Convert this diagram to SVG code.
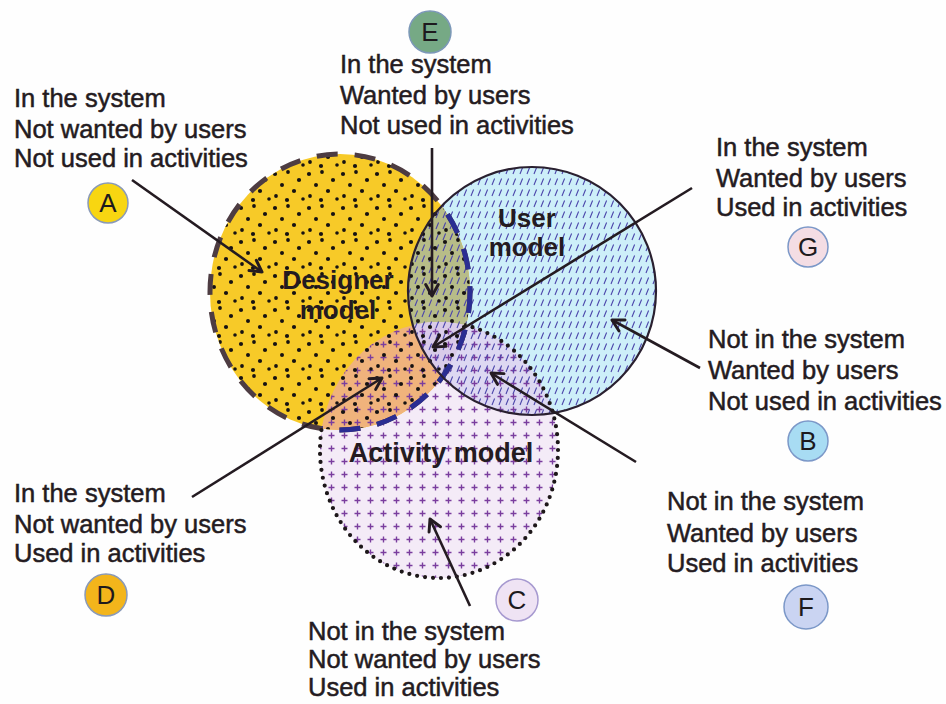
<svg xmlns="http://www.w3.org/2000/svg" width="946" height="704" viewBox="0 0 946 704">
<style>
.t{font-family:"Liberation Sans",Arial,sans-serif;font-size:25.5px;fill:#241b21;stroke:#241b21;stroke-width:0.5}
.b{font-family:"Liberation Sans",Arial,sans-serif;font-size:26px;font-weight:bold;fill:#241b21;text-anchor:middle}
.L{font-family:"Liberation Sans",Arial,sans-serif;font-size:26px;fill:#1d1a1d;text-anchor:middle}
.conn{stroke:#241b21;stroke-width:2.6;fill:none;marker-end:url(#arr)}
</style>
<defs>
<marker id="arr" viewBox="0 0 14 14" refX="12" refY="7" markerWidth="16" markerHeight="16" markerUnits="userSpaceOnUse" orient="auto">
<path d="M2,1.5 L12,7 L2,12.5" fill="none" stroke="#241b21" stroke-width="2.6" stroke-linecap="round" stroke-linejoin="round"/>
</marker>
<pattern id="dots" width="34" height="34" patternUnits="userSpaceOnUse">
<circle cx="3" cy="4" r="2.1" fill="#161212"/>
<circle cx="16" cy="2" r="1.9" fill="#161212"/>
<circle cx="27" cy="10" r="2.1" fill="#161212"/>
<circle cx="10" cy="15" r="2" fill="#161212"/>
<circle cx="22" cy="21" r="2.1" fill="#161212"/>
<circle cx="4" cy="26" r="1.9" fill="#161212"/>
<circle cx="15" cy="30" r="2.1" fill="#161212"/>
<circle cx="31" cy="29" r="1.8" fill="#161212"/>
</pattern>
<pattern id="slash" width="7" height="11" patternUnits="userSpaceOnUse">
<line x1="2" y1="9" x2="4.6" y2="2.5" stroke="#4b45aa" stroke-width="1.1"/>
</pattern>
<pattern id="cross" width="13" height="13" patternUnits="userSpaceOnUse">
<path d="M3.5,6.5 H9.5 M6.5,3.5 V9.5" stroke="#7a3d9e" stroke-width="1.4"/>
</pattern>
<clipPath id="cU"><circle cx="532" cy="291" r="124"/></clipPath>
<clipPath id="cA"><ellipse cx="439" cy="450" rx="119" ry="128"/></clipPath>
<clipPath id="cUA"><circle cx="532" cy="291" r="124"/><ellipse cx="439" cy="450" rx="119" ry="128"/></clipPath>
<mask id="mNoD"><rect width="946" height="704" fill="#fff"/><ellipse cx="340" cy="292" rx="128" ry="136" fill="#000"/></mask>
</defs>
<rect width="946" height="704" fill="#fefefe"/>

<g id="venn-fills">
<ellipse cx="439" cy="450" rx="119" ry="128" fill="#f4ebf7"/>
<circle cx="532" cy="291" r="124" fill="#cdeff9"/>
<ellipse cx="340" cy="292" rx="130" ry="138" fill="#f7ca28"/>
<ellipse cx="340" cy="292" rx="130" ry="138" fill="#b7bc88" clip-path="url(#cU)"/>
<ellipse cx="340" cy="292" rx="130" ry="138" fill="#f0b37c" clip-path="url(#cA)"/>
<circle cx="532" cy="291" r="124" fill="#ddd8f2" clip-path="url(#cA)"/>
<g clip-path="url(#cA)"><ellipse cx="340" cy="292" rx="130" ry="138" fill="#d9cbe9" clip-path="url(#cU)"/></g>
<ellipse cx="439" cy="450" rx="119" ry="128" fill="url(#cross)"/>
<circle cx="532" cy="291" r="124" fill="url(#slash)"/>
<ellipse cx="340" cy="292" rx="130" ry="138" fill="url(#dots)"/>
</g>

<g id="designer">
<ellipse cx="340" cy="292" rx="130" ry="138" fill="none" stroke="#4d3c42" stroke-width="5" stroke-dasharray="21 17"/>
<ellipse cx="340" cy="292" rx="130" ry="138" fill="none" stroke="#2a2d92" stroke-width="5" stroke-dasharray="21 17" clip-path="url(#cUA)"/>
<text class="b" x="338" y="289">Designer</text>
<text class="b" x="338" y="319">model</text>
</g>
<g id="user">
<circle cx="532" cy="291" r="124" fill="none" stroke="#2a2030" stroke-width="2.2"/>
<text class="b" x="527" y="227">User</text>
<text class="b" x="527" y="256">model</text>
</g>
<g id="activity">
<ellipse cx="439" cy="450" rx="119" ry="128" fill="none" stroke="#1d1719" stroke-width="4.2" stroke-dasharray="0 8" stroke-linecap="round" mask="url(#mNoD)"/>
<text class="b" x="441" y="462" style="font-size:27px">Activity model</text>
</g>

<g id="connectors">
<line class="conn" x1="132" y1="180" x2="262" y2="272"/>
<line class="conn" x1="432" y1="148" x2="432" y2="296"/>
<line class="conn" x1="692" y1="188" x2="433" y2="347"/>
<line class="conn" x1="700" y1="368" x2="612" y2="320"/>
<line class="conn" x1="636" y1="462" x2="491" y2="373"/>
<line class="conn" x1="192" y1="497" x2="382" y2="378"/>
<line class="conn" x1="470" y1="606" x2="430" y2="519"/>
</g>

<g id="region-A">
<text class="t" x="14" y="107">In the system</text>
<text class="t" x="14" y="138">Not wanted by users</text>
<text class="t" x="14" y="167">Not used in activities</text>
<circle cx="108" cy="203" r="20" fill="#f8d611" stroke="#8a9ab8" stroke-width="1.5"/>
<text class="L" x="108" y="212">A</text>
</g>
<g id="region-E">
<circle cx="430" cy="32" r="21" fill="#76a985" stroke="#7c98b8" stroke-width="1.5"/>
<text class="L" x="430" y="41">E</text>
<text class="t" x="340" y="73">In the system</text>
<text class="t" x="340" y="104">Wanted by users</text>
<text class="t" x="340" y="134">Not used in activities</text>
</g>
<g id="region-G">
<text class="t" x="716" y="156">In the system</text>
<text class="t" x="716" y="187">Wanted by users</text>
<text class="t" x="716" y="216">Used in activities</text>
<circle cx="808" cy="247" r="20" fill="#f4dde4" stroke="#7c98c8" stroke-width="1.5"/>
<text class="L" x="808" y="256">G</text>
</g>
<g id="region-B">
<text class="t" x="708" y="348">Not in the system</text>
<text class="t" x="708" y="379">Wanted by users</text>
<text class="t" x="708" y="410">Not used in activities</text>
<circle cx="808" cy="441" r="20" fill="#a8dcf3" stroke="#7c98c8" stroke-width="1.5"/>
<text class="L" x="808" y="450">B</text>
</g>
<g id="region-D">
<text class="t" x="14" y="502">In the system</text>
<text class="t" x="14" y="533">Not wanted by users</text>
<text class="t" x="14" y="562">Used in activities</text>
<circle cx="106" cy="595" r="21" fill="#f3b51b" stroke="#8a9ab8" stroke-width="1.5"/>
<text class="L" x="106" y="604">D</text>
</g>
<g id="region-F">
<text class="t" x="667" y="510">Not in the system</text>
<text class="t" x="667" y="542">Wanted by users</text>
<text class="t" x="667" y="572">Used in activities</text>
<circle cx="806" cy="607" r="22" fill="#cad4f2" stroke="#7c98c8" stroke-width="1.5"/>
<text class="L" x="806" y="616">F</text>
</g>
<g id="region-C">
<circle cx="517" cy="600" r="21" fill="#efe3f4" stroke="#a79ad0" stroke-width="1.5"/>
<text class="L" x="517" y="609">C</text>
<text class="t" x="308" y="640">Not in the system</text>
<text class="t" x="308" y="668">Not wanted by users</text>
<text class="t" x="308" y="696">Used in activities</text>
</g>
</svg>
